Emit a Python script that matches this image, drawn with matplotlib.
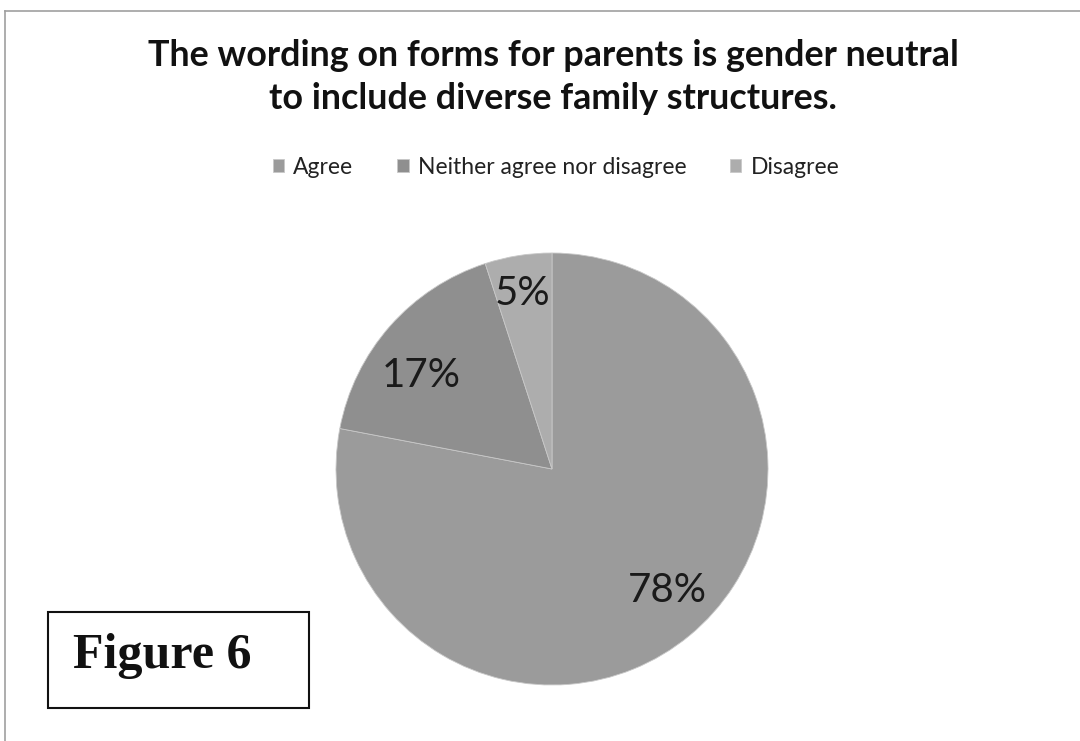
import numpy as np
import matplotlib.pyplot as plt
from matplotlib.patches import Rectangle
from matplotlib.lines import Line2D

labels = ["Agree", "Neither agree nor disagree", "Disagree"]
shares = [78, 17, 5]
colors = ["#9b9b9b", "#8f8f8f", "#adadad"]
title = "The wording on forms for parents is gender neutral\nto include diverse family structures."

W, H = 1080, 741
fig = plt.figure(figsize=(W / 100, H / 100), dpi=100)
fig.patch.set_facecolor("white")

# chart frame (left and top edges only)
fig.add_artist(Line2D([5 / W, 5 / W], [0, 1 - 11 / H], transform=fig.transFigure, color="#a0a0a0", lw=1.2))
fig.add_artist(Line2D([5 / W, 1], [1 - 11 / H, 1 - 11 / H], transform=fig.transFigure, color="#a0a0a0", lw=1.2))

fig.text(553 / W, 1 - 77 / H, title, ha="center", va="center", fontsize=25.8,
         fontweight="bold", family="Lato", linespacing=1.4, color="#111111")

# pie
cx, cy, r = 552, 469, 216
ax = fig.add_axes([(cx - r) / W, (H - cy - r) / H, 2 * r / W, 2 * r / H])
wedges, texts, autotexts = ax.pie(
    shares, colors=colors, startangle=90, counterclock=False,
    autopct=lambda p: f"{p:.0f}%", pctdistance=0.79,
    wedgeprops=dict(edgecolor="#c8c8c8", linewidth=0.6),
    textprops=dict(fontsize=29, family="Lato", color="#1a1a1a"))
# place each percentage label at its own radius / angle nudge
for w, t, d, nudge in zip(wedges, autotexts, [0.776, 0.745, 0.826], [4, 6, 0.5]):
    ang = np.deg2rad((w.theta1 + w.theta2) / 2 + nudge)
    t.set_position((d * np.cos(ang), d * np.sin(ang)))
ax.set_xlim(-1, 1)
ax.set_ylim(-1, 1)
ax.set_aspect("equal")

leg = fig.legend(wedges, labels, loc="center", bbox_to_anchor=(556 / W, 1 - 167 / H),
                 ncol=3, frameon=False, prop=dict(family="Lato", size=16.5),
                 handlelength=0.5, handleheight=0.5, handletextpad=0.4, columnspacing=1.9)
for t in leg.get_texts():
    t.set_color("#222222")

# figure tag box
fig.add_artist(Rectangle((48 / W, 1 - 708 / H), 261 / W, 96 / H, transform=fig.transFigure,
                         fill=False, edgecolor="#111111", lw=1.5))
fig.text(162 / W, 1 - 656 / H, "Figure 6", ha="center", va="center", fontsize=36,
         fontweight="bold", family="Liberation Serif", color="#111111")

fig.savefig("out.png", dpi=100)
